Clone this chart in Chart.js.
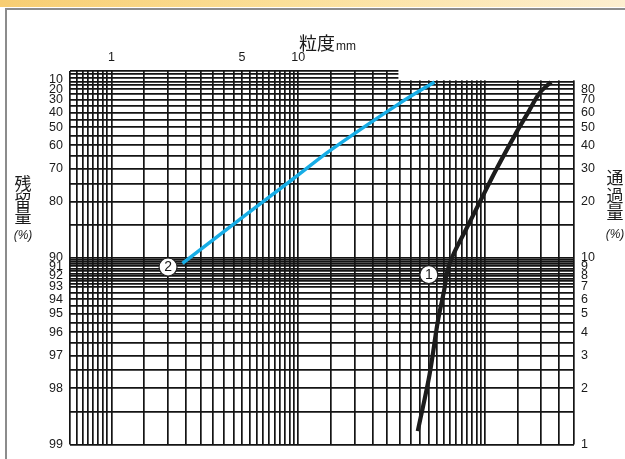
<!DOCTYPE html>
<html>
<head>
<meta charset="utf-8">
<script src="https://cdn.jsdelivr.net/npm/chart.js@4.4.0/dist/chart.umd.min.js"></script>
<style>
  html, body { margin: 0; padding: 0; background: #fff; }
  #wrap { position: relative; width: 625px; height: 459px; overflow: hidden; }
  #band { position: absolute; left: 0; top: 0; width: 625px; height: 7px;
          background: linear-gradient(to right, #f7cd72, #fbdf98 45%, #fdefd0 100%); }
  #frame { position: absolute; left: 5px; top: 8px; width: 700px; height: 500px;
           border-left: 2px solid #8c8c8c; border-top: 2px solid #8c8c8c; }
  canvas { position: absolute; left: 0; top: 0; }
</style>
</head>
<body>
<div id="wrap">
  <div id="band"></div>
  <div id="frame"></div>
  <canvas id="chart" width="625" height="459"></canvas>
</div>
<script>
/* -------------------------------------------------- */
/* Data                                                */
/* -------------------------------------------------- */

// particle size (mm) -- vertical grid lines and labelled ticks
const SIZE_GRID = [0.6, 0.65, 0.7, 0.75, 0.8, 0.85, 0.9, 0.95, 1,
  1.5, 2, 2.5, 3, 3.5, 4, 4.5, 5, 5.5, 6, 6.5, 7, 7.5, 8, 8.5, 9, 9.5, 10,
  15, 20, 25, 30, 35, 40, 45, 50, 55, 60, 65, 70, 75, 80, 85, 90, 95, 100,
  150, 200, 250, 300];
const SIZE_LABELS = [1, 5, 10];

// passing % -- horizontal grid lines
const PASS_GRID = [1, 1.5, 2, 2.5, 3, 3.5, 4, 4.5, 5, 5.5, 6, 6.5, 7,
  7.25, 7.5, 7.75, 8, 8.25, 8.5, 8.75, 9, 9.25, 9.5, 9.75, 10,
  15, 20, 25, 30, 35, 40, 45, 50, 55, 60, 65, 70, 75, 80, 84, 88, 92, 96, 100];

// residue % (left) and passing % (right) labels
const RESIDUE_LABELS = [10, 20, 30, 40, 50, 60, 70, 80, 90, 91, 92, 93, 94, 95, 96, 97, 98, 99];
const PASSING_LABELS = [80, 70, 60, 50, 40, 30, 20, 10, 9, 8, 7, 6, 5, 4, 3, 2, 1];

// upper-left part of the sheet reaches higher than the rest
const CUT_SIZE = 34;
const CUT_PASSING = 88;

// curve 1 (black)
const CURVE1_SIZE = [43.7, 50.5, 55.9, 60.7, 62.6, 67.3, 79.3, 95.4, 114.8, 146.8, 169.3, 195.6, 225.9];
const CURVE1_PASS = [1.18, 2.36, 4.53, 6.82, 8.29, 10.25, 14.2, 20.5, 29.6, 46.5, 59.3, 75.8, 87.4];

// curve 2 (blue)
const CURVE2_SIZE = [2.4, 4.87, 9.38, 15.05, 34.9, 53.7];
const CURVE2_PASS = [9.34, 16.07, 26.4, 37.9, 67.1, 87.4];

// circled curve numbers
const MARKER_SIZE = [2.01, 50.1];
const MARKER_PASS = [8.92, 8.12];
const MARKER_TEXT = ['2', '1'];

/* -------------------------------------------------- */
/* Helpers                                             */
/* -------------------------------------------------- */

const LABEL_FONT = { family: "'Liberation Sans Narrow', 'Liberation Sans', sans-serif", size: 12.5 };
const CJK = "'Noto Sans CJK JP', 'Noto Sans CJK SC', sans-serif";
const GRID_COLOR = '#141414';

function pts(xs, ys) { return xs.map((x, i) => ({ x, y: ys[i] })); }
function near(list, v) { return list.some(l => Math.abs(l - v) < 1e-6); }

// left axis ticks: every grid line plus every labelled residue
const LEFT_TICKS = Array.from(new Set(PASS_GRID.concat(RESIDUE_LABELS.map(r => 100 - r))))
  .sort((a, b) => a - b);

// white-out the top-right corner where the sheet is lower
const gridCut = {
  id: 'gridCut',
  beforeDatasetsDraw(chart) {
    const { ctx, chartArea, scales } = chart;
    const x0 = scales.x.getPixelForValue(CUT_SIZE) + 1;
    const y1 = scales.y.getPixelForValue(CUT_PASSING) - 1;
    ctx.save();
    ctx.fillStyle = '#fff';
    ctx.fillRect(x0, chartArea.top - 2, chartArea.right - x0 + 3, y1 - chartArea.top + 2);
    ctx.restore();
  },
};

// numbers inside the circles
const markerText = {
  id: 'markerText',
  afterDatasetsDraw(chart) {
    const { ctx } = chart;
    const meta = chart.getDatasetMeta(0);
    ctx.save();
    ctx.fillStyle = '#1a1a1a';
    ctx.font = "14px 'Liberation Sans', sans-serif";
    ctx.textAlign = 'center';
    ctx.textBaseline = 'middle';
    meta.data.forEach((el, i) => ctx.fillText(MARKER_TEXT[i], el.x, el.y + 0.5));
    ctx.restore();
  },
};

// axis titles
const titles = {
  id: 'titles',
  afterDraw(chart) {
    const { ctx } = chart;
    ctx.save();
    ctx.fillStyle = '#1a1a1a';
    ctx.textBaseline = 'alphabetic';
    ctx.textAlign = 'left';
    ctx.font = '18px ' + CJK;
    ctx.fillText('粒度', 299, 50);
    const w = ctx.measureText('粒度').width;
    ctx.font = "12px 'Liberation Sans', sans-serif";
    ctx.fillText('mm', 299 + w + 1, 50);

    ctx.textAlign = 'center';
    ctx.textBaseline = 'middle';
    ctx.font = '17px ' + CJK;
    ['残', '留', '量'].forEach((c, i) => ctx.fillText(c, 23, 184 + i * 16.5));
    ['通', '過', '量'].forEach((c, i) => ctx.fillText(c, 615, 178 + i * 17.5));
    ctx.font = "italic 12px 'Liberation Sans Narrow', 'Liberation Sans', sans-serif";
    ctx.fillText('(%)', 23, 236);
    ctx.fillText('(%)', 615, 235);
    ctx.restore();
  },
};

/* -------------------------------------------------- */
/* Chart                                               */
/* -------------------------------------------------- */

new Chart(document.getElementById('chart').getContext('2d'), {
  type: 'line',
  data: {
    datasets: [
      {
        data: pts(MARKER_SIZE, MARKER_PASS),
        showLine: false,
        pointRadius: 9,
        pointBackgroundColor: '#fff',
        pointBorderColor: '#222',
        pointBorderWidth: 1.2,
      },
      {
        data: pts(CURVE1_SIZE, CURVE1_PASS),
        borderColor: '#1c1c1c',
        borderWidth: 4.2,
        pointRadius: 0,
        tension: 0.35,
      },
      {
        data: pts(CURVE2_SIZE, CURVE2_PASS),
        borderColor: '#17ade6',
        borderWidth: 3.5,
        pointRadius: 0,
        tension: 0.3,
      },
    ],
  },
  options: {
    responsive: false,
    animation: false,
    layout: { padding: { top: 0, bottom: 12, left: 0, right: 0 } },
    plugins: { legend: { display: false }, tooltip: { enabled: false } },
    scales: {
      x: {
        type: 'logarithmic',
        position: 'top',
        min: 0.6,
        max: 300,
        bounds: 'data',
        afterBuildTicks: s => { s.ticks = SIZE_GRID.map(v => ({ value: v })); },
        afterFit: s => { s.height = 71; },
        ticks: {
          autoSkip: false, maxRotation: 0, padding: 6, color: '#1a1a1a', font: LABEL_FONT,
          callback: v => near(SIZE_LABELS, v) ? String(v) : '',
        },
        grid: { color: GRID_COLOR, lineWidth: 1.7, drawTicks: false },
        border: { display: false },
      },
      y: {
        type: 'logarithmic',
        position: 'left',
        min: 1,
        max: 100,
        bounds: 'data',
        afterBuildTicks: s => { s.ticks = LEFT_TICKS.map(v => ({ value: v })); },
        afterFit: s => { s.width = 70; },
        ticks: {
          autoSkip: false, padding: 7, color: '#1a1a1a', font: LABEL_FONT,
          callback: v => near(RESIDUE_LABELS, 100 - v) ? String(Math.round(100 - v)) : '',
        },
        grid: {
          color: c => (c.tick && near(PASS_GRID, c.tick.value)) ? GRID_COLOR : 'rgba(0,0,0,0)',
          lineWidth: 1.7,
          drawTicks: false,
        },
        border: { display: false },
      },
      y2: {
        type: 'logarithmic',
        position: 'right',
        min: 1,
        max: 100,
        bounds: 'data',
        afterBuildTicks: s => { s.ticks = PASSING_LABELS.map(v => ({ value: v })); },
        afterFit: s => { s.width = 51; },
        ticks: {
          autoSkip: false, padding: 7, color: '#1a1a1a', font: LABEL_FONT,
          callback: v => String(v),
        },
        grid: { display: false, drawTicks: false },
        border: { display: false },
      },
    },
  },
  plugins: [gridCut, markerText, titles],
});
</script>
</body>
</html>
